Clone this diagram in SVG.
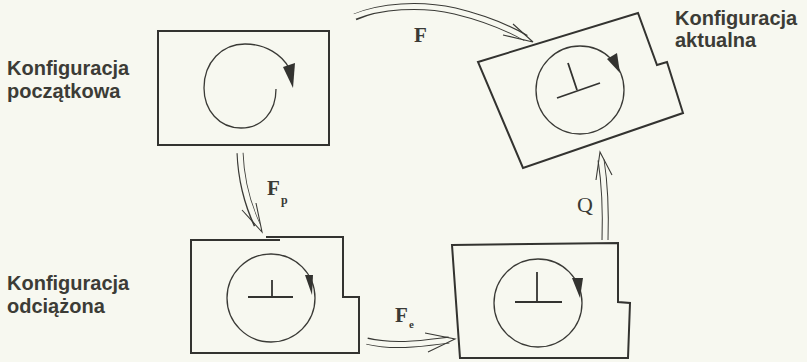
<svg xmlns="http://www.w3.org/2000/svg" width="807" height="362" viewBox="0 0 807 362">
<style>
.bg{fill:#f7f8f0}
.box{fill:none;stroke:#333330;stroke-width:2;stroke-linejoin:miter}
.circ{fill:none;stroke:#3a3a36;stroke-width:1.3}
.perp{fill:none;stroke:#333330;stroke-width:1.8}
.head{fill:#333330;stroke:none}
.lbl{font-family:"Liberation Sans",Arial,sans-serif;font-weight:bold;font-size:20px;fill:#3c3c36}
.shaft-o{fill:none;stroke:#3a3a36;stroke-width:7}
.shaft-i{fill:none;stroke:#f7f8f0;stroke-width:5}
.barb{fill:none;stroke:#3a3a36;stroke-width:1.1;stroke-linejoin:miter}
.sym{font-family:"Liberation Serif","Times New Roman",serif;font-weight:bold;fill:#3a3a36}
</style>
<rect class="bg" x="0" y="0" width="807" height="362"/>

<g id="node-poczatkowa">
  <rect class="box" x="158" y="31" width="171" height="114"/>
  <path class="circ" d="M276,89 C276,112 262,128 241,128 C219,128 204,110 204,88 C204,62 222,44 245,44 C266,44 282,55 289,68"/>
  <polygon class="head" points="283,67 295,63 293,88"/>
  <text class="lbl" x="7" y="75">Konfiguracja</text>
  <text class="lbl" x="7" y="98">początkowa</text>
</g>

<g id="node-aktualna">
  <polygon class="box" points="478,62 638,13 657,65 667,62 683,113 523,168"/>
  <circle class="circ" cx="580" cy="90" r="44"/>
  <line class="perp" x1="568" y1="63" x2="577" y2="90"/>
  <line class="perp" x1="557" y1="98" x2="600" y2="83"/>
  <polygon class="head" points="607,59 617,53 620,73"/>
  <text class="lbl" x="675" y="25">Konfiguracja</text>
  <text class="lbl" x="675" y="47">aktualna</text>
</g>

<g id="node-odciazona">
  <path class="box" d="M280,240 L191,240 L191,353 L359,353 L359,297 L343,297 L343,237 L266,237"/>
  <circle class="circ" cx="271" cy="298" r="44"/>
  <line class="perp" x1="272" y1="280" x2="272" y2="297"/>
  <line class="perp" x1="248" y1="297" x2="293" y2="297"/>
  <polygon class="head" points="305,275 313,275 312,295"/>
  <text class="lbl" x="7" y="290">Konfiguracja</text>
  <text class="lbl" x="7" y="313">odciążona</text>
</g>

<g id="node-posrednia">
  <path class="box" d="M452,245 L618,243 L618,302 L630,303 L628,358 L460,358 Z"/>
  <circle class="circ" cx="538" cy="303" r="44"/>
  <line class="perp" x1="537" y1="272" x2="537" y2="302"/>
  <line class="perp" x1="515" y1="302" x2="562" y2="302"/>
  <polygon class="head" points="572,278 583,278 580,298"/>
</g>

<g id="connectors">
  <g id="arrow-F">
    <path class="shaft-o" d="M355,17 C380,6 420,3 455,11 C488,19 510,29 526,38"/>
    <path class="shaft-i" d="M353,17 C380,6 420,3 455,11 C488,19 510,29 527,39"/>
    <polyline class="barb" points="513,24 533,42 503,35"/>
    <text class="sym" x="414" y="42" font-size="21">F</text>
  </g>
  <g id="arrow-Fp">
    <path class="shaft-o" d="M240,153 C241,180 247,203 257,225"/>
    <path class="shaft-i" d="M240,151 C241,180 247,203 258,226"/>
    <polyline class="barb" points="242,210 262,232 256,203"/>
    <text class="sym" x="267" y="195" font-size="21">F</text>
    <text class="sym" x="281" y="204" font-size="12">p</text>
  </g>
  <g id="arrow-Fe">
    <path class="shaft-o" d="M367,341 C395,348 425,343 449,340"/>
    <path class="shaft-i" d="M365,341 C395,348 425,343 450,340"/>
    <polyline class="barb" points="425,333 455,339 428,352"/>
    <text class="sym" x="395" y="322" font-size="21">F</text>
    <text class="sym" x="409" y="328" font-size="11">e</text>
  </g>
  <g id="arrow-Q">
    <path class="shaft-o" d="M605,240 C606,210 605,185 601,160"/>
    <path class="shaft-i" d="M605,242 C606,210 605,185 601,159"/>
    <polyline class="barb" points="596,180 600,152 612,175"/>
    <text x="577" y="212" font-family="Liberation Serif,'Times New Roman',serif" font-size="22" fill="#3a3a36">Q</text>
  </g>
</g>
</svg>
